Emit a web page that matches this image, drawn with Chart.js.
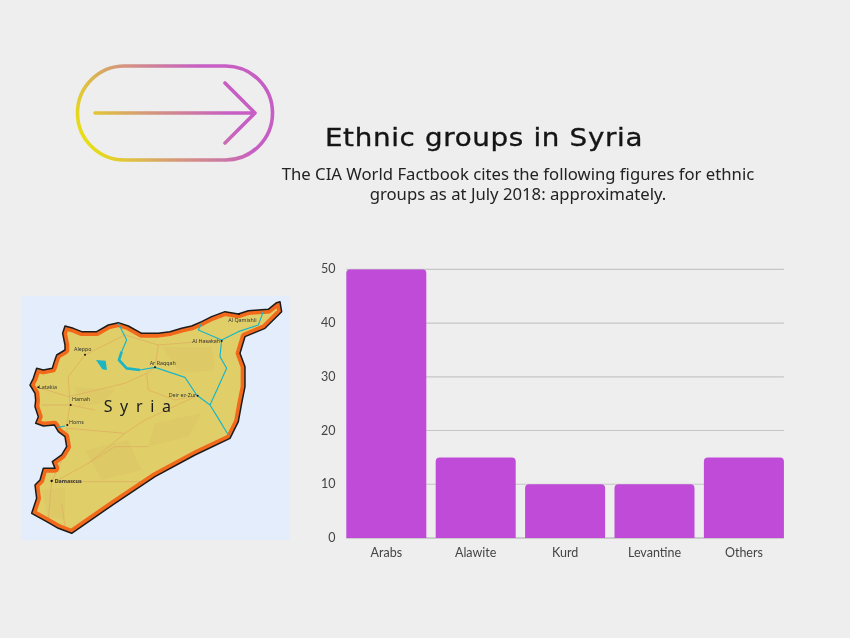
<!DOCTYPE html>
<html>
<head>
<meta charset="utf-8">
<title>Ethnic groups in Syria</title>
<script src="https://cdn.jsdelivr.net/npm/chart.js@4"></script>
<style>
  html, body { margin: 0; padding: 0; background: #eeeeee; }
  #page { position: relative; width: 850px; height: 638px; overflow: hidden; background: #eeeeee; }
  #page > * { position: absolute; }
  #chart { left: 0; top: 0; }
  #title { left: 284px; width: 400px; top: 123px; text-align: center; font: 25px "DejaVu Sans", sans-serif; letter-spacing: 0.6px; -webkit-text-stroke: 0.35px #151515; color: #151515; white-space: nowrap; transform: scaleX(1.11); }
  #subtitle { left: 248px; width: 540px; top: 164px; text-align: center; font: 16.7px/20px "Noto Sans", sans-serif; color: #222; }
  #map { filter: blur(0.45px); }
  .city { font: 16px "Noto Sans", sans-serif; fill: #333; }
</style>
</head>
<body>
<div id="page">
  <svg id="arrow" width="300" height="200" style="left:0;top:0">
    <defs>
      <linearGradient id="grad" gradientUnits="userSpaceOnUse" x1="85" y1="150" x2="205" y2="75">
        <stop offset="0" stop-color="#e8e30e"/>
        <stop offset="0.5" stop-color="#d59a78"/>
        <stop offset="1" stop-color="#c75ec4"/>
      </linearGradient>
    </defs>
    <g fill="none" stroke="url(#grad)" stroke-width="3.6" stroke-linecap="round" stroke-linejoin="round">
      <rect x="77.5" y="66" width="195" height="94" rx="47"/>
      <path d="M95 113H255M225 83L255 113L225 143"/>
    </g>
  </svg>

  <svg id="map" width="300" height="260" style="left:15px;top:290px">
    <defs>
      <path id="outline" d="M795 35L785 38L770 50L760 58L730 60L700 62L670 72L630 65L590 80L560 95L530 108L500 115L465 125L430 130L380 130L340 108L310 98L280 105L245 125L200 125L175 115L150 108L143 130L150 165L150 180L125 195L118 215L112 235L85 240L65 235L55 265L45 285L60 310L62 330L60 350L70 380L62 400L85 408L118 405L130 425L150 440L155 470L140 495L112 515L120 535L85 535L75 570L60 585L65 625L50 670L95 695L130 715L170 730L300 640L420 560L540 495L645 445L670 395L680 340L690 290L690 230L675 190L690 140L750 115L800 65Z"/>
      <clipPath id="inside"><use href="#outline"/></clipPath>
    </defs>
    <rect x="6" y="6" width="269" height="244" fill="#e3edfb"/>
    <g transform="scale(0.3333)">
      <use href="#outline" fill="#e0cf69"/>
      <g fill="#ddca67" clip-path="url(#inside)">
        <path d="M180 290L300 300L260 340L190 350Z"/>
        <path d="M420 400L560 370L520 440L400 470Z"/>
        <path d="M210 480L340 450L380 540L260 570Z"/>
        <path d="M80 600L150 590L150 690L95 680Z"/>
        <path d="M440 170L590 170L600 240L500 250Z"/>
      </g>
      <g fill="none" stroke="#e0b060" stroke-width="2.5" stroke-linejoin="round" clip-path="url(#inside)">
        <path d="M210 195L160 260L165 345L155 405L160 470L110 575L100 690"/>
        <path d="M70 292L160 320L330 280L395 250L420 232M395 250L400 300L480 330L545 318"/>
        <path d="M80 345L165 345L240 360M160 415L330 430L390 390L545 318"/>
        <path d="M210 195L330 135L430 165L420 232M430 165L620 150"/>
        <path d="M120 575L220 520L330 430M120 575L390 575M220 520L300 470L400 470"/>
        <path d="M100 690L150 710L140 640"/>
      </g>
      <use href="#outline" fill="none" stroke="#f2691c" stroke-width="26" stroke-linejoin="round" clip-path="url(#inside)"/>
      <use href="#outline" fill="none" stroke="#1c1c1c" stroke-width="4.5" stroke-linejoin="round"/>
      <g fill="none" stroke="#1db4c4" stroke-width="3.5" stroke-linejoin="round">
        <path d="M310 100L335 150L320 185M375 240L420 232L510 262L545 315L585 345L610 385L640 435"/>
        <path d="M745 65L730 105L670 125L620 150L615 200L635 235L610 290L585 345"/>
        <path d="M560 100L550 120L620 150"/>
        <path d="M130 412L150 408"/>
        <path d="M320 185L312 210L335 235L375 240" stroke-width="8"/>
      </g>
      <path d="M243 210L272 212L276 240L262 238Z" fill="#1db4c4"/>
      <g fill="#111">
        <circle cx="210" cy="194" r="3"/><circle cx="420" cy="232" r="3"/><circle cx="620" cy="153" r="3"/>
        <circle cx="548" cy="317" r="3"/><circle cx="167" cy="345" r="3"/><circle cx="157" cy="405" r="3"/>
        <circle cx="110" cy="573" r="3.5"/><circle cx="70" cy="292" r="3"/><circle cx="672" cy="72" r="3"/>
      </g>
      <g class="labels">
        <text class="city" x="177" y="184">Aleppo</text>
        <text class="city" x="404" y="225">Ar Raqqah</text>
        <text class="city" x="532" y="160">Al Hasakah</text>
        <text class="city" x="640" y="96">Al Qamishli</text>
        <text class="city" x="461" y="322">Deir ez-Zur</text>
        <text class="city" x="171" y="334">Hamah</text>
        <text class="city" x="162" y="401">Homs</text>
        <text class="city" x="72" y="297">Latakia</text>
        <text class="city" x="119" y="580" style="font-weight:700">Damascus</text>
        <text x="266" y="367" style="font:48px 'Noto Sans',sans-serif;letter-spacing:23px;fill:#1c1c1c">Syria</text>
      </g>
    </g>
  </svg>

  <canvas id="chart" width="850" height="638"></canvas>
  <div id="title">Ethnic groups in Syria</div>
  <div id="subtitle">The CIA World Factbook cites the following figures for ethnic<br>groups as at July 2018: approximately.</div>
</div>
<script>
  const categories = ['Arabs', 'Alawite', 'Kurd', 'Levantine', 'Others'];
  const shares = [50, 15, 10, 10, 15];
  const yTicks = [0, 10, 20, 30, 40, 50];

  // grid only runs from the first bar's edge to the last bar's edge
  const barWidthGrid = {
    id: 'barWidthGrid',
    beforeDatasetsDraw(chart) {
      const bars = chart.getDatasetMeta(0).data;
      const left = bars[0].x - bars[0].width / 2;
      const right = bars[bars.length - 1].x + bars[0].width / 2;
      const ctx = chart.ctx;
      ctx.save();
      chart.scales.y.ticks.forEach((tick, i) => {
        const y = chart.scales.y.getPixelForTick(i);
        ctx.strokeStyle = tick.value === 0 ? '#a8a8a8' : '#c6c6c6';
        ctx.lineWidth = 1.2;
        ctx.beginPath();
        ctx.moveTo(left, y);
        ctx.lineTo(right, y);
        ctx.stroke();
      });
      ctx.restore();
    }
  };

  new Chart(document.getElementById('chart'), {
    type: 'bar',
    data: {
      labels: categories,
      datasets: [{
        data: shares,
        backgroundColor: '#bf4bd8',
        barPercentage: 0.895,
        categoryPercentage: 1,
        borderRadius: { topLeft: 4, topRight: 4, bottomLeft: 0, bottomRight: 0 }
      }]
    },
    options: {
      responsive: false,
      animation: false,
      layout: { padding: { top: 269.3, right: 61.4, bottom: 0, left: 0 } },
      plugins: { legend: { display: false }, tooltip: { enabled: false } },
      scales: {
        x: {
          grid: { display: false, drawTicks: false },
          border: { display: false },
          ticks: { color: '#444', padding: 7, font: { family: 'Lato', size: 12.5 }, maxRotation: 0 },
          afterFit: (scale) => { scale.height = 100; }
        },
        y: {
          min: 0,
          max: 50,
          afterBuildTicks: (scale) => { scale.ticks = yTicks.map((value) => ({ value })); },
          grid: { display: false, drawTicks: false },
          border: { display: false },
          ticks: { color: '#444', padding: 6, font: { family: 'Lato', size: 12.5 } },
          afterFit: (scale) => { scale.width = 341.6; }
        }
      }
    },
    plugins: [barWidthGrid]
  });
</script>
</body>
</html>
